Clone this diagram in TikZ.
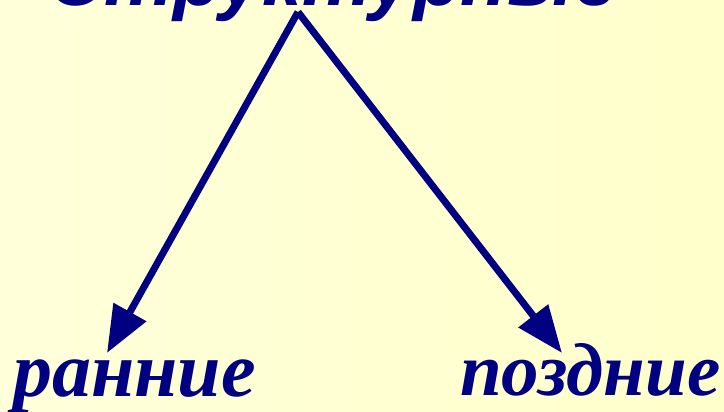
\documentclass[tikz,border=0pt]{standalone}
\usepackage{fontspec}
\usepackage{tikz}
\usetikzlibrary{positioning,arrows.meta}
\newfontfamily\headfont{Liberation Sans}
\newfontfamily\labelfont{Liberation Serif}
\definecolor{ink}{HTML}{000080}
\definecolor{paperl}{HTML}{FFFFDA}
\definecolor{paperr}{HTML}{FFFFCB}

\begin{document}
\begin{tikzpicture}[
  x=1pt, y=1pt,
  every node/.style={inner sep=0pt, text=ink},
  headtext/.style={font=\headfont\bfseries\itshape\fontsize{78}{82}\selectfont, anchor=base},
  kindtext/.style={font=\labelfont\bfseries\itshape\fontsize{#1}{80}\selectfont, anchor=base west},
  branch/.style={-{Triangle[length=47pt,width=36pt]}, line width=7pt, draw=ink},
]
  \shade[left color=paperl, right color=paperr] (0,0) rectangle (724,412);
  \useasboundingbox (0,0) rectangle (724,412);

  \node[headtext] (struct)   at (333,406) {Структурные};
  \node[kindtext=78] (early) at (13,15)   {ранние};
  \node[kindtext=75] (late)  at (460,16)  {поздние};

  % arrow ends
  \coordinate (apex) at (298,400);
  \coordinate (tipl) at (107,59);
  \coordinate (tipr) at (562,59);

  \draw[branch] (apex) -- (tipl);
  \draw[branch] (apex) -- (tipr);
\end{tikzpicture}
\end{document}
